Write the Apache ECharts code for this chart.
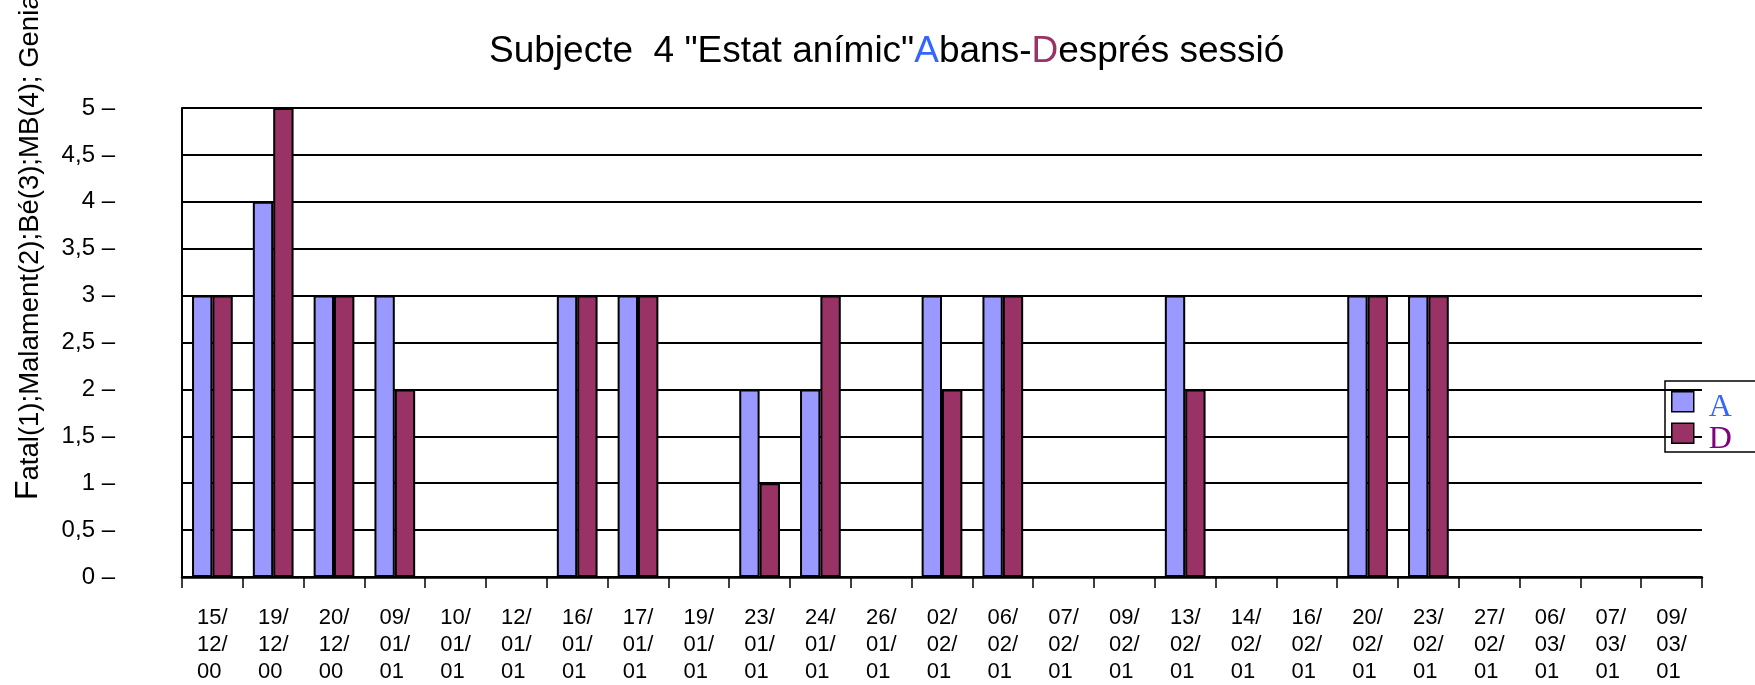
<!DOCTYPE html>
<html>
<head>
<meta charset="utf-8">
<script src="https://cdn.jsdelivr.net/npm/echarts@6/dist/echarts.min.js"></script>
<style>
  html, body { margin: 0; padding: 0; background: #fff; }
  #chart { width: 1755px; height: 685px; }
</style>
</head>
<body>
<div id="chart"></div>
<script>
// dates of each session
var dates = ['15/12/00', '19/12/00', '20/12/00', '09/01/01', '10/01/01', '12/01/01', '16/01/01',
  '17/01/01', '19/01/01', '23/01/01', '24/01/01', '26/01/01', '02/02/01', '06/02/01', '07/02/01',
  '09/02/01', '13/02/01', '14/02/01', '16/02/01', '20/02/01', '23/02/01', '27/02/01', '06/03/01',
  '07/03/01', '09/03/01'];
// A = abans (before), D = després (after)
var valuesA = [3, 4, 3, 3, 0, 0, 3, 3, 0, 2, 2, 0, 3, 3, 0, 0, 3, 0, 0, 3, 3, 0, 0, 0, 0];
var valuesD = [3, 5, 3, 2, 0, 0, 3, 3, 0, 1, 3, 0, 2, 3, 0, 0, 2, 0, 0, 3, 3, 0, 0, 0, 0];

var font = '"Liberation Sans", Arial, sans-serif';
var serif = '"Liberation Serif", "Times New Roman", serif';

var chart = echarts.init(document.getElementById('chart'));
var option = {
  animation: false,
  backgroundColor: '#fff',
  title: {
    left: 489,
    top: 33,
    padding: 0,
    text: '{n|Subjecte  4 "Estat anímic"}{a|A}{n|bans-}{d|D}{n|esprés sessió}',
    textStyle: {
      fontWeight: 'normal',
      rich: {
        n: { fontFamily: font, fontSize: 37, fontWeight: 'normal', lineHeight: 37, color: '#000' },
        a: { fontFamily: font, fontSize: 37, fontWeight: 'normal', lineHeight: 37, color: '#3366ff' },
        d: { fontFamily: font, fontSize: 37, fontWeight: 'normal', lineHeight: 37, color: '#993366' }
      }
    }
  },
  legend: {
    orient: 'vertical',
    left: 1665,
    top: 381,
    padding: [10, 100, -4, 6],
    itemGap: -2,
    itemWidth: 32,
    itemHeight: 32,
    symbolKeepAspect: false,
    borderColor: '#000',
    borderWidth: 1.5,
    // square swatch in the top-left of a larger box, so the text sits a bit lower
    icon: 'path://M0,0L22,0L22,20L0,20Z M32,32L32,32',
    itemStyle: { borderColor: '#000', borderWidth: 1.5 },
    data: [
      { name: 'A', textStyle: { color: '#3366ff' } },
      { name: 'D', textStyle: { color: '#800080' } }
    ],
    textStyle: {
      fontFamily: serif,
      fontSize: 32,
      lineHeight: 30
    }
  },
  grid: { left: 182, right: 53, top: 108, bottom: 107 },
  xAxis: {
    type: 'category',
    data: dates,
    axisLine: { lineStyle: { color: '#000', width: 2.5 } },
    axisTick: { show: true, length: 11, lineStyle: { color: '#000', width: 1.5 } },
    axisLabel: {
      interval: 0,
      margin: 27,
      fontFamily: font,
      fontSize: 22,
      lineHeight: 27,
      color: '#000',
      formatter: function (v) {
        var p = v.split('/');
        return p[0] + '/\n' + p[1] + '/\n' + p[2] + ' ';
      }
    }
  },
  yAxis: {
    type: 'value',
    min: 0,
    max: 5,
    interval: 0.5,
    axisLine: { show: true, lineStyle: { color: '#000', width: 2 } },
    axisTick: { show: false },
    splitLine: { lineStyle: { color: '#000', width: 2 } },
    axisLabel: {
      margin: 67,
      fontFamily: font,
      fontSize: 24,
      color: '#000',
      formatter: function (v) {
        return String(v).replace('.', ',') + ' –';
      }
    }
  },
  graphic: [{
    type: 'text',
    x: 44,
    y: 500,
    rotation: Math.PI / 2,
    style: {
      text: '{f|F}{r|atal(1);Malament(2);Bé(3);MB(4); Genial(5)}',
      align: 'left',
      verticalAlign: 'bottom',
      rich: {
        f: { fontFamily: font, fontSize: 32, lineHeight: 30, verticalAlign: 'bottom', fill: '#000' },
        r: { fontFamily: font, fontSize: 27.5, lineHeight: 27, verticalAlign: 'bottom', fill: '#000' }
      }
    }
  }],
  series: [
    {
      name: 'A',
      type: 'bar',
      data: valuesA,
      barGap: '0%',
      barCategoryGap: '33%',
      itemStyle: { color: '#9999ff', borderColor: '#000', borderWidth: 2 }
    },
    {
      name: 'D',
      type: 'bar',
      data: valuesD,
      barGap: '0%',
      barCategoryGap: '33%',
      itemStyle: { color: '#993366', borderColor: '#000', borderWidth: 2 }
    }
  ]
};
chart.setOption(option);
</script>
</body>
</html>
